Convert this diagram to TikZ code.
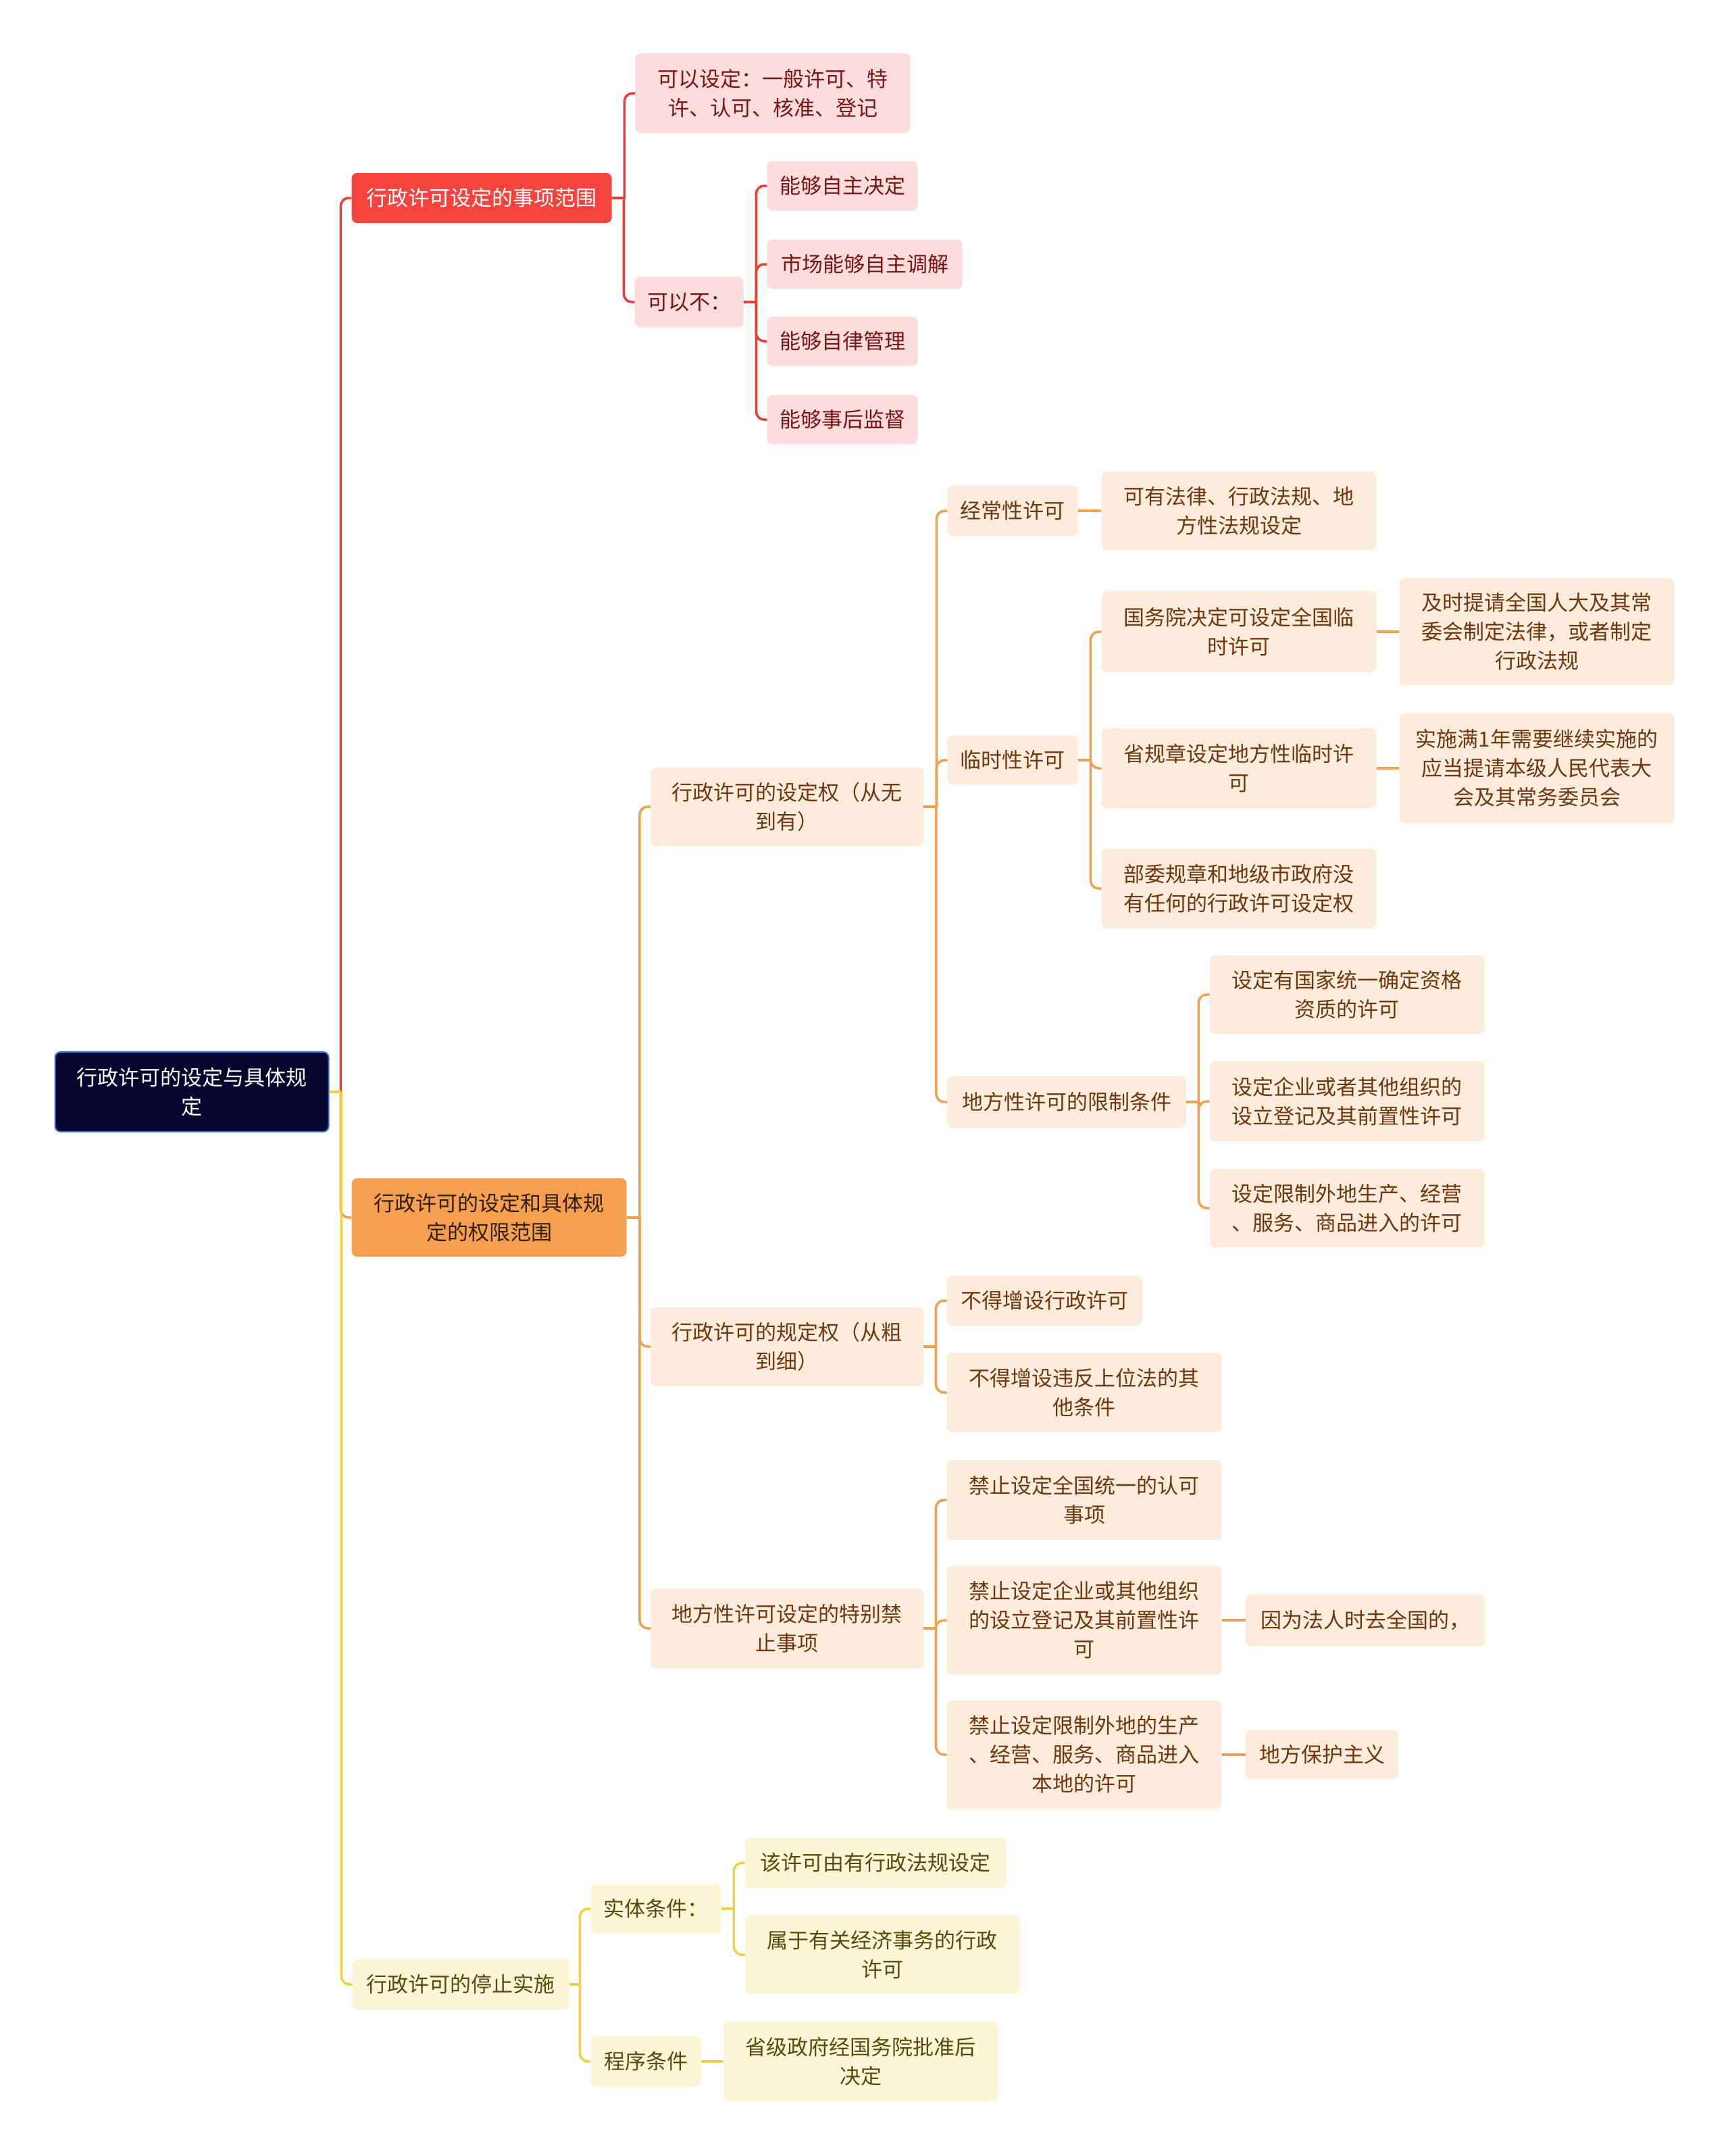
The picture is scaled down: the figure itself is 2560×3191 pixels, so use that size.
\documentclass[tikz,border=0pt]{standalone}
\usepackage{fontspec}
\newfontfamily\cjk{Noto Sans CJK SC}
\usetikzlibrary{calc}
\definecolor{rootc}{RGB}{5,5,45}
\definecolor{rootb}{RGB}{60,110,210}
\definecolor{redc}{RGB}{245,67,61}
\definecolor{orangec}{RGB}{244,160,80}
\definecolor{yelc}{RGB}{253,246,214}
\definecolor{pinkc}{RGB}{253,220,220}
\definecolor{peachc}{RGB}{253,235,220}
\definecolor{atext}{RGB}{120,20,20}
\definecolor{btext}{RGB}{110,55,15}
\definecolor{bdark}{RGB}{50,30,10}
\definecolor{ctext}{RGB}{85,75,15}
\definecolor{redline}{RGB}{232,62,56}
\definecolor{orangeline}{RGB}{240,160,80}
\definecolor{yelline}{RGB}{240,210,60}
\newcommand\mmlink[3]{%
  \draw[#1] (#2.east) -- ($(#2.east -| #3.west)+(-16,0)$);
  \draw[#1,rounded corners=12pt] ($(#2.east -| #3.west)+(-16,0)$) |- (#3.west);}
\newcommand\mmstraight[3]{%
  \draw[#1] (#2.east) -- (#3.west);}
\begin{document}
\begin{tikzpicture}[x=1pt,y=-1pt,
  nd/.style={rounded corners=8pt, align=center, inner sep=0pt,
    font=\cjk\fontsize{31}{43}\selectfont},
  rootn/.style={nd, fill=rootc, draw=rootb, line width=2pt, text=white},
  la/.style={nd, fill=redc, text=white},
  lb/.style={nd, fill=orangec, text=bdark},
  lc/.style={nd, fill=yelc, text=ctext},
  pa/.style={nd, fill=pinkc, text=atext},
  pb/.style={nd, fill=peachc, text=btext},
  pc/.style={nd, fill=yelc, text=ctext},
  rl/.style={draw=redline, line width=3.5pt},
  ol/.style={draw=orangeline, line width=3.5pt},
  yl/.style={draw=yelline, line width=3.5pt}]
\useasboundingbox (0,0) rectangle (2560,3191);
\fill[white] (0,0) rectangle (2560,3191);

% root and level 1
\node[rootn, minimum width=405, minimum height=118] (root) at (284,1616) {行政许可的设定与具体规\\定};
\node[la, minimum width=385, minimum height=74] (A) at (713,293) {行政许可设定的事项范围};
\node[lb, minimum width=407, minimum height=116] (B) at (724,1802) {行政许可的设定和具体规\\定的权限范围};
\node[lc, minimum width=321, minimum height=75] (C) at (682,2937) {行政许可的停止实施};

% A branch
\node[pa, minimum width=407, minimum height=118] (A1) at (1144,138) {可以设定：一般许可、特\\许、认可、核准、登记};
\node[pa, minimum width=161, minimum height=75] (A2) at (1020,447) {可以不：};
\node[pa, minimum width=223, minimum height=73] (A21) at (1247,275) {能够自主决定};
\node[pa, minimum width=289, minimum height=73] (A22) at (1280,391) {市场能够自主调解};
\node[pa, minimum width=223, minimum height=73] (A23) at (1247,505) {能够自律管理};
\node[pa, minimum width=223, minimum height=73] (A24) at (1247,621) {能够事后监督};

% B branch
\node[pb, minimum width=404, minimum height=116] (B1) at (1165,1194) {行政许可的设定权（从无\\到有）};
\node[pb, minimum width=193, minimum height=75] (B11) at (1499,756) {经常性许可};
\node[pb, minimum width=407, minimum height=116] (B111) at (1834,756) {可有法律、行政法规、地\\方性法规设定};
\node[pb, minimum width=193, minimum height=73] (B12) at (1499,1125) {临时性许可};
\node[pb, minimum width=407, minimum height=120] (B121) at (1834,935) {国务院决定可设定全国临\\时许可};
\node[pb, minimum width=407, minimum height=158] (B1211) at (2275,935) {及时提请全国人大及其常\\委会制定法律，或者制定\\行政法规};
\node[pb, minimum width=407, minimum height=118] (B122) at (1834,1137) {省规章设定地方性临时许\\可};
\node[pb, minimum width=407, minimum height=163] (B1221) at (2275,1137) {实施满1年需要继续实施的\\应当提请本级人民代表大\\会及其常务委员会};
\node[pb, minimum width=407, minimum height=118] (B123) at (1834,1315) {部委规章和地级市政府没\\有任何的行政许可设定权};
\node[pb, minimum width=354, minimum height=76] (B13) at (1579,1631) {地方性许可的限制条件};
\node[pb, minimum width=407, minimum height=116] (B131) at (1994,1472) {设定有国家统一确定资格\\资质的许可};
\node[pb, minimum width=407, minimum height=118] (B132) at (1994,1630) {设定企业或者其他组织的\\设立登记及其前置性许可};
\node[pb, minimum width=407, minimum height=116] (B133) at (1994,1788) {设定限制外地生产、经营\\、服务、商品进入的许可};
\node[pb, minimum width=404, minimum height=116] (B2) at (1165,1993) {行政许可的规定权（从粗\\到细）};
\node[pb, minimum width=289, minimum height=74] (B21) at (1546,1925) {不得增设行政许可};
\node[pb, minimum width=407, minimum height=118] (B22) at (1605,2061) {不得增设违反上位法的其\\他条件};
\node[pb, minimum width=404, minimum height=118] (B3) at (1165,2410) {地方性许可设定的特别禁\\止事项};
\node[pb, minimum width=407, minimum height=118] (B31) at (1605,2220) {禁止设定全国统一的认可\\事项};
\node[pb, minimum width=407, minimum height=161] (B32) at (1605,2398) {禁止设定企业或其他组织\\的设立登记及其前置性许\\可};
\node[pb, minimum width=354, minimum height=77] (B321) at (2021,2398) {因为法人时去全国的，};
\node[pb, minimum width=407, minimum height=161] (B33) at (1605,2597) {禁止设定限制外地的生产\\、经营、服务、商品进入\\本地的许可};
\node[pb, minimum width=226, minimum height=73] (B331) at (1957,2597) {地方保护主义};

% C branch
\node[pc, minimum width=193, minimum height=73] (C1) at (971,2825) {实体条件：};
\node[pc, minimum width=387, minimum height=75] (C11) at (1296,2757) {该许可由有行政法规设定};
\node[pc, minimum width=407, minimum height=116] (C12) at (1306,2893) {属于有关经济事务的行政\\许可};
\node[pc, minimum width=163, minimum height=75] (C2) at (956,3051) {程序条件};
\node[pc, minimum width=407, minimum height=118] (C21) at (1274,3051) {省级政府经国务院批准后\\决定};

% connectors
\mmlink{rl}{root}{A}
\mmlink{ol}{root}{B}
\mmlink{yl}{root}{C}
\mmlink{rl}{A}{A1}
\mmlink{rl}{A}{A2}
\mmlink{rl}{A2}{A21}
\mmlink{rl}{A2}{A22}
\mmlink{rl}{A2}{A23}
\mmlink{rl}{A2}{A24}
\mmlink{ol}{B}{B1}
\mmlink{ol}{B}{B2}
\mmlink{ol}{B}{B3}
\mmlink{ol}{B1}{B11}
\mmlink{ol}{B1}{B12}
\mmlink{ol}{B1}{B13}
\mmstraight{ol}{B11}{B111}
\mmlink{ol}{B12}{B121}
\mmlink{ol}{B12}{B122}
\mmlink{ol}{B12}{B123}
\mmstraight{ol}{B121}{B1211}
\mmstraight{ol}{B122}{B1221}
\mmlink{ol}{B13}{B131}
\mmlink{ol}{B13}{B132}
\mmlink{ol}{B13}{B133}
\mmlink{ol}{B2}{B21}
\mmlink{ol}{B2}{B22}
\mmlink{ol}{B3}{B31}
\mmlink{ol}{B3}{B32}
\mmlink{ol}{B3}{B33}
\mmstraight{ol}{B32}{B321}
\mmstraight{ol}{B33}{B331}
\mmlink{yl}{C}{C1}
\mmlink{yl}{C}{C2}
\mmlink{yl}{C1}{C11}
\mmlink{yl}{C1}{C12}
\mmstraight{yl}{C2}{C21}
\end{tikzpicture}
\end{document}
